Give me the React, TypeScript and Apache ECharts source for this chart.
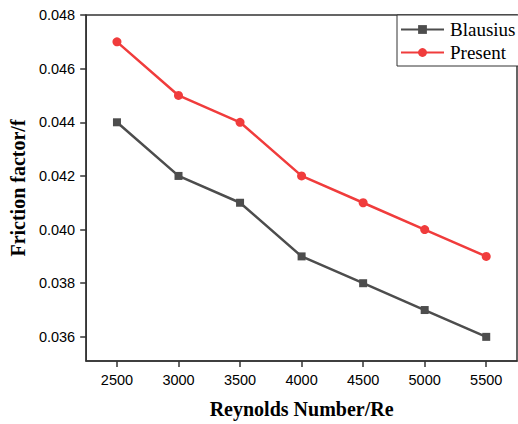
import React, { useEffect, useRef } from "react";
import * as echarts from "echarts";

const reynolds = [2500, 3000, 3500, 4000, 4500, 5000, 5500];
const blausius = [0.044, 0.042, 0.041, 0.039, 0.038, 0.037, 0.036];
const present = [0.047, 0.045, 0.044, 0.042, 0.041, 0.04, 0.039];
const yTicks = [0.036, 0.038, 0.04, 0.042, 0.044, 0.046, 0.048];
const xTicks = [2500, 3000, 3500, 4000, 4500, 5000, 5500];

const serif = "'Times New Roman', 'Liberation Serif', serif";
const sans = "Arial, 'Liberation Sans', sans-serif";

export default function App() {
  const ref = useRef<HTMLDivElement>(null);
  useEffect(() => {
    if (!ref.current) return;
    const chart = echarts.init(ref.current, null, { renderer: "svg" });
    chart.setOption({
      animation: false,
      backgroundColor: "#ffffff",
      grid: {
        left: 83,
        top: 15,
        right: 1,
        bottom: 61,
        show: true,
        borderColor: "#333",
        borderWidth: 1.5,
        backgroundColor: "transparent",
      },
      legend: {
        left: 397,
        top: 15,
        orient: "vertical",
        padding: [5, 12, 4, 3],
        itemGap: 4,
        itemWidth: 43,
        itemHeight: 11,
        borderColor: "#333",
        borderWidth: 1,
        backgroundColor: "#fff",
        textStyle: { fontFamily: serif, fontSize: 19, color: "#000", lineHeight: 19, padding: [0, 0, 0, 1] },
        data: ["Blausius", "Present"],
      },
      xAxis: {
        type: "value",
        min: 2250,
        max: 5750,
        name: "Reynolds Number/Re",
        nameLocation: "middle",
        nameGap: 38,
        nameTextStyle: { fontFamily: serif, fontSize: 20, fontWeight: "bold", color: "#000" },
        axisLine: { show: true, lineStyle: { color: "#333", width: 1.5 } },
        axisTick: { show: true, inside: false, length: 6, lineStyle: { color: "#333", width: 1.5 }, customValues: xTicks },
        axisLabel: {
          customValues: xTicks,
          margin: 11,
          fontFamily: sans,
          fontSize: 14.5,
          color: "#000",
          formatter: (v: number) => String(v),
        },
        splitLine: { show: false },
      },
      yAxis: {
        type: "value",
        min: 0.0351,
        max: 0.048,
        name: "Friction factor/f",
        nameLocation: "middle",
        nameGap: 54,
        nameTextStyle: { fontFamily: serif, fontSize: 20, fontWeight: "bold", color: "#000" },
        axisLine: { show: true, lineStyle: { color: "#333", width: 1.5 } },
        axisTick: { show: true, inside: false, length: 6, lineStyle: { color: "#333", width: 1.5 }, customValues: yTicks },
        axisLabel: {
          customValues: yTicks,
          margin: 11,
          fontFamily: sans,
          fontSize: 14.5,
          color: "#000",
          formatter: (v: number) => v.toFixed(3),
        },
        splitLine: { show: false },
      },
      series: [
        {
          name: "Blausius",
          type: "line",
          data: reynolds.map((x, i) => [x, blausius[i]]),
          symbol: "rect",
          symbolSize: 8,
          lineStyle: { color: "#4d4d4d", width: 2.5 },
          itemStyle: { color: "#4d4d4d" },
          z: 3,
        },
        {
          name: "Present",
          type: "line",
          data: reynolds.map((x, i) => [x, present[i]]),
          symbol: "circle",
          symbolSize: 9,
          lineStyle: { color: "#f03c3c", width: 2.5 },
          itemStyle: { color: "#f03c3c" },
          z: 3,
        },
      ],
    });
    return () => chart.dispose();
  }, []);
  return <div ref={ref} style={{ width: 518, height: 424, position: "absolute", left: 0, top: 0 }} />;
}
